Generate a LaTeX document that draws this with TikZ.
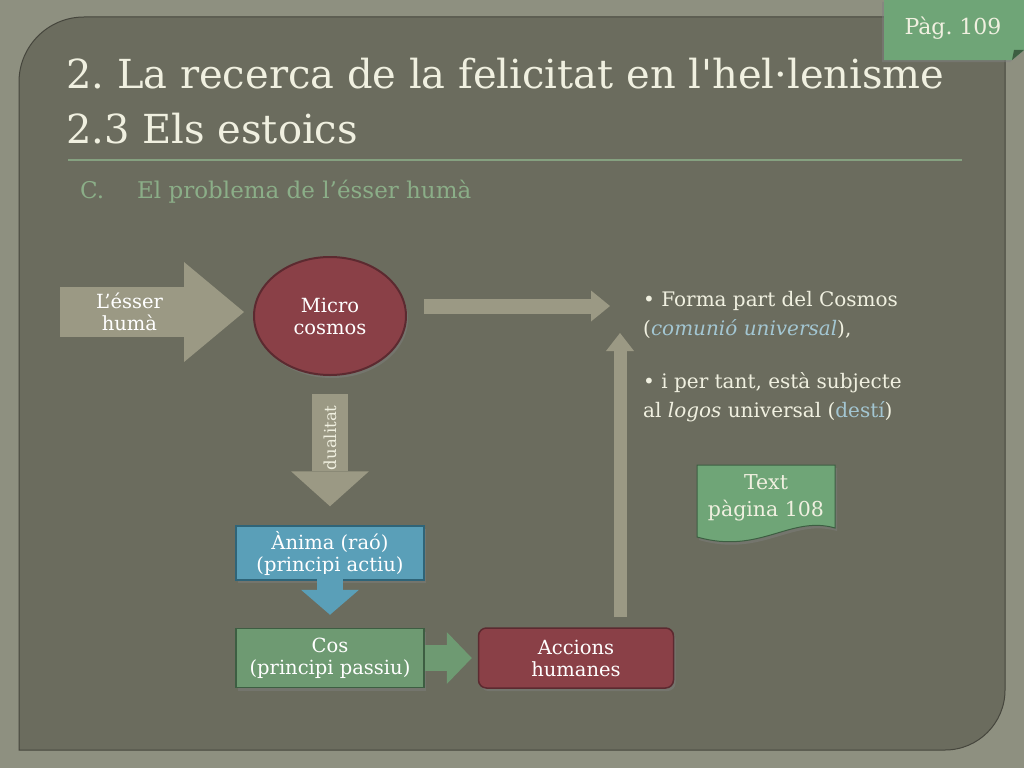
\documentclass[tikz,border=0pt]{standalone}
\usepackage{fontspec}
\setmainfont{DejaVu Serif}[Ligatures=TeXOff]
\usetikzlibrary{shapes.geometric,arrows.meta,shadows,calc}
\frenchspacing

\definecolor{slateback}{HTML}{8E9080}
\definecolor{panelgrey}{HTML}{6B6C5E}
\definecolor{cream}{HTML}{F0F0E0}
\definecolor{sagegreen}{HTML}{8BAE88}
\definecolor{khaki}{HTML}{9B9984}
\definecolor{wine}{HTML}{8A4047}
\definecolor{winedark}{HTML}{5C2A30}
\definecolor{skyblue}{HTML}{5A9FB8}
\definecolor{skybluedark}{HTML}{2F6478}
\definecolor{leafgreen}{HTML}{6E9A72}
\definecolor{leafgreendark}{HTML}{3D5E42}
\definecolor{tabgreen}{HTML}{6FA577}
\definecolor{paleblue}{HTML}{A3C6D2}

\begin{document}
\begin{tikzpicture}[x=1pt,y=-1pt,
	boxtext/.style={text=white,font=\fontsize{19.5}{22}\selectfont,align=center},
	wordbox/.style={boxtext,minimum width=188pt,minimum height=55pt,line width=1.5pt,
		drop shadow={opacity=0.45,shadow xshift=2pt,shadow yshift=-3pt}},
	slabtext/.style={text=cream,anchor=base west,inner sep=0pt}]

\useasboundingbox (0,0) rectangle (1024,768);

%Draws the background and the slide panel with two rounded corners
	\fill[slateback] (0,0) rectangle (1024,768);
	\fill[panelgrey,draw=black!35!panelgrey,line width=1pt] (19,750) -- (19,400) [rounded corners=65pt] -- (19,17) -- (500,17) [sharp corners] -- (1005,17) -- (1005,400) [rounded corners=60pt] -- (1005,750) -- (500,750) [sharp corners] -- (19,750) -- cycle;

%Draws the page tab in the top right corner
	\fill[tabgreen,drop shadow={opacity=0.5,shadow xshift=-2pt,shadow yshift=-2pt}] (884,0) -- (1024,0) -- (1024,50) -- (1012,60) -- (884,60) -- cycle;
	\fill[leafgreendark] (1012,60) -- (1014,50) -- (1024,50) -- cycle;
	\node[text=cream,font=\fontsize{22}{26}\selectfont] (pagetab) at (953,28) {Pàg. 109};

%Title, rule and subtitle
	\node[slabtext,font=\fontsize{40}{48}\selectfont] (titleone) at (66,88) {2. La recerca de la felicitat en l'hel·lenisme};
	\node[slabtext,font=\fontsize{40}{48}\selectfont] (titletwo) at (66,143) {2.3 Els estoics};
	\draw[sagegreen!80!panelgrey,line width=1.2pt] (68,160) -- (962,160);
	\node[slabtext,text=sagegreen,font=\fontsize{23}{27}\selectfont] (subtitle) at (80,198) {\makebox[57pt][l]{C.}El problema de l’ésser humà};

%The micro cosmos and the three boxes of the diagram
	\node[ellipse,wordbox,fill=wine,draw=winedark,line width=2pt,minimum width=152pt,minimum height=118pt] (micro) at (330,316) {Micro\\cosmos};
	\node[wordbox,fill=skyblue,draw=skybluedark,minimum height=54pt] (anima) at (330,553) {Ànima (raó)\\(principi actiu)};
	\node[wordbox,fill=leafgreen,draw=leafgreendark,minimum height=59pt] (cos) at (330,658) {Cos\\(principi passiu)};
	\node[wordbox,fill=wine,draw=winedark,rounded corners=8pt,minimum width=195pt,minimum height=60pt] (acts) at (576,658) {Accions\\humanes};

%Free ends of the arrows
	\coordinate (humanstart) at (60,312);
	\coordinate (fate) at (610,306);
	\coordinate (fateup) at (620,333);

%Draws the block arrows between the parts
	\draw[khaki,line width=50pt,-{Triangle[length=60pt,width=100pt,line width=0pt]},shorten >=9pt] (humanstart) -- (humanstart -| micro.west) node[pos=0.36,boxtext] (human) {L’ésser\\humà};
	\draw[khaki,line width=15pt,-{Triangle[length=19pt,width=31pt,line width=0pt]}] ($(micro.east |- fate)+(17,0)$) -- (fate);
	\draw[khaki,line width=36pt,-{Triangle[length=35pt,width=78pt,line width=0pt]}] ([yshift=-18pt]micro.south) -- ([yshift=19pt]anima.north) node[pos=0.39,rotate=90,text=cream,font=\fontsize{16.5}{18}\selectfont] (duality) {dualitat};
	\draw[skyblue,line width=26pt,-{Triangle[length=25pt,width=58pt,line width=0pt]}] ([yshift=7pt]anima.south) -- ([yshift=13pt]cos.north);
	\draw[leafgreen,line width=26pt,-{Triangle[length=25pt,width=52pt,line width=0pt]}] (cos.east) -- ([xshift=-6pt]acts.west);
	\draw[khaki,line width=13pt,-{Triangle[length=18pt,width=28pt,line width=0pt]}] ([xshift=44pt,yshift=10pt]acts.north) -- (fateup);

%The two bullet points
	\node[anchor=north west,inner sep=0pt,text=cream,font=\fontsize{20}{29}\selectfont,align=left] (bullets) at (643,291)
		{• Forma part del Cosmos\\(\textcolor{paleblue}{\itshape comunió universal}),\\[24pt]• i per tant, està subjecte\\al {\itshape logos} universal (\textcolor{paleblue}{destí})};

%The document shape pointing to the text
	\fill[tabgreen,draw=leafgreendark,line width=1pt,drop shadow={opacity=0.45,shadow xshift=2pt,shadow yshift=-3pt}] (697,465) -- (835,465) -- (835,528) .. controls (790,515) and (760,555) .. (697,537) -- cycle;
	\node[boxtext,font=\fontsize{20.5}{27}\selectfont,text=cream] (textref) at (766,498) {Text\\pàgina 108};

\end{tikzpicture}
\end{document}
